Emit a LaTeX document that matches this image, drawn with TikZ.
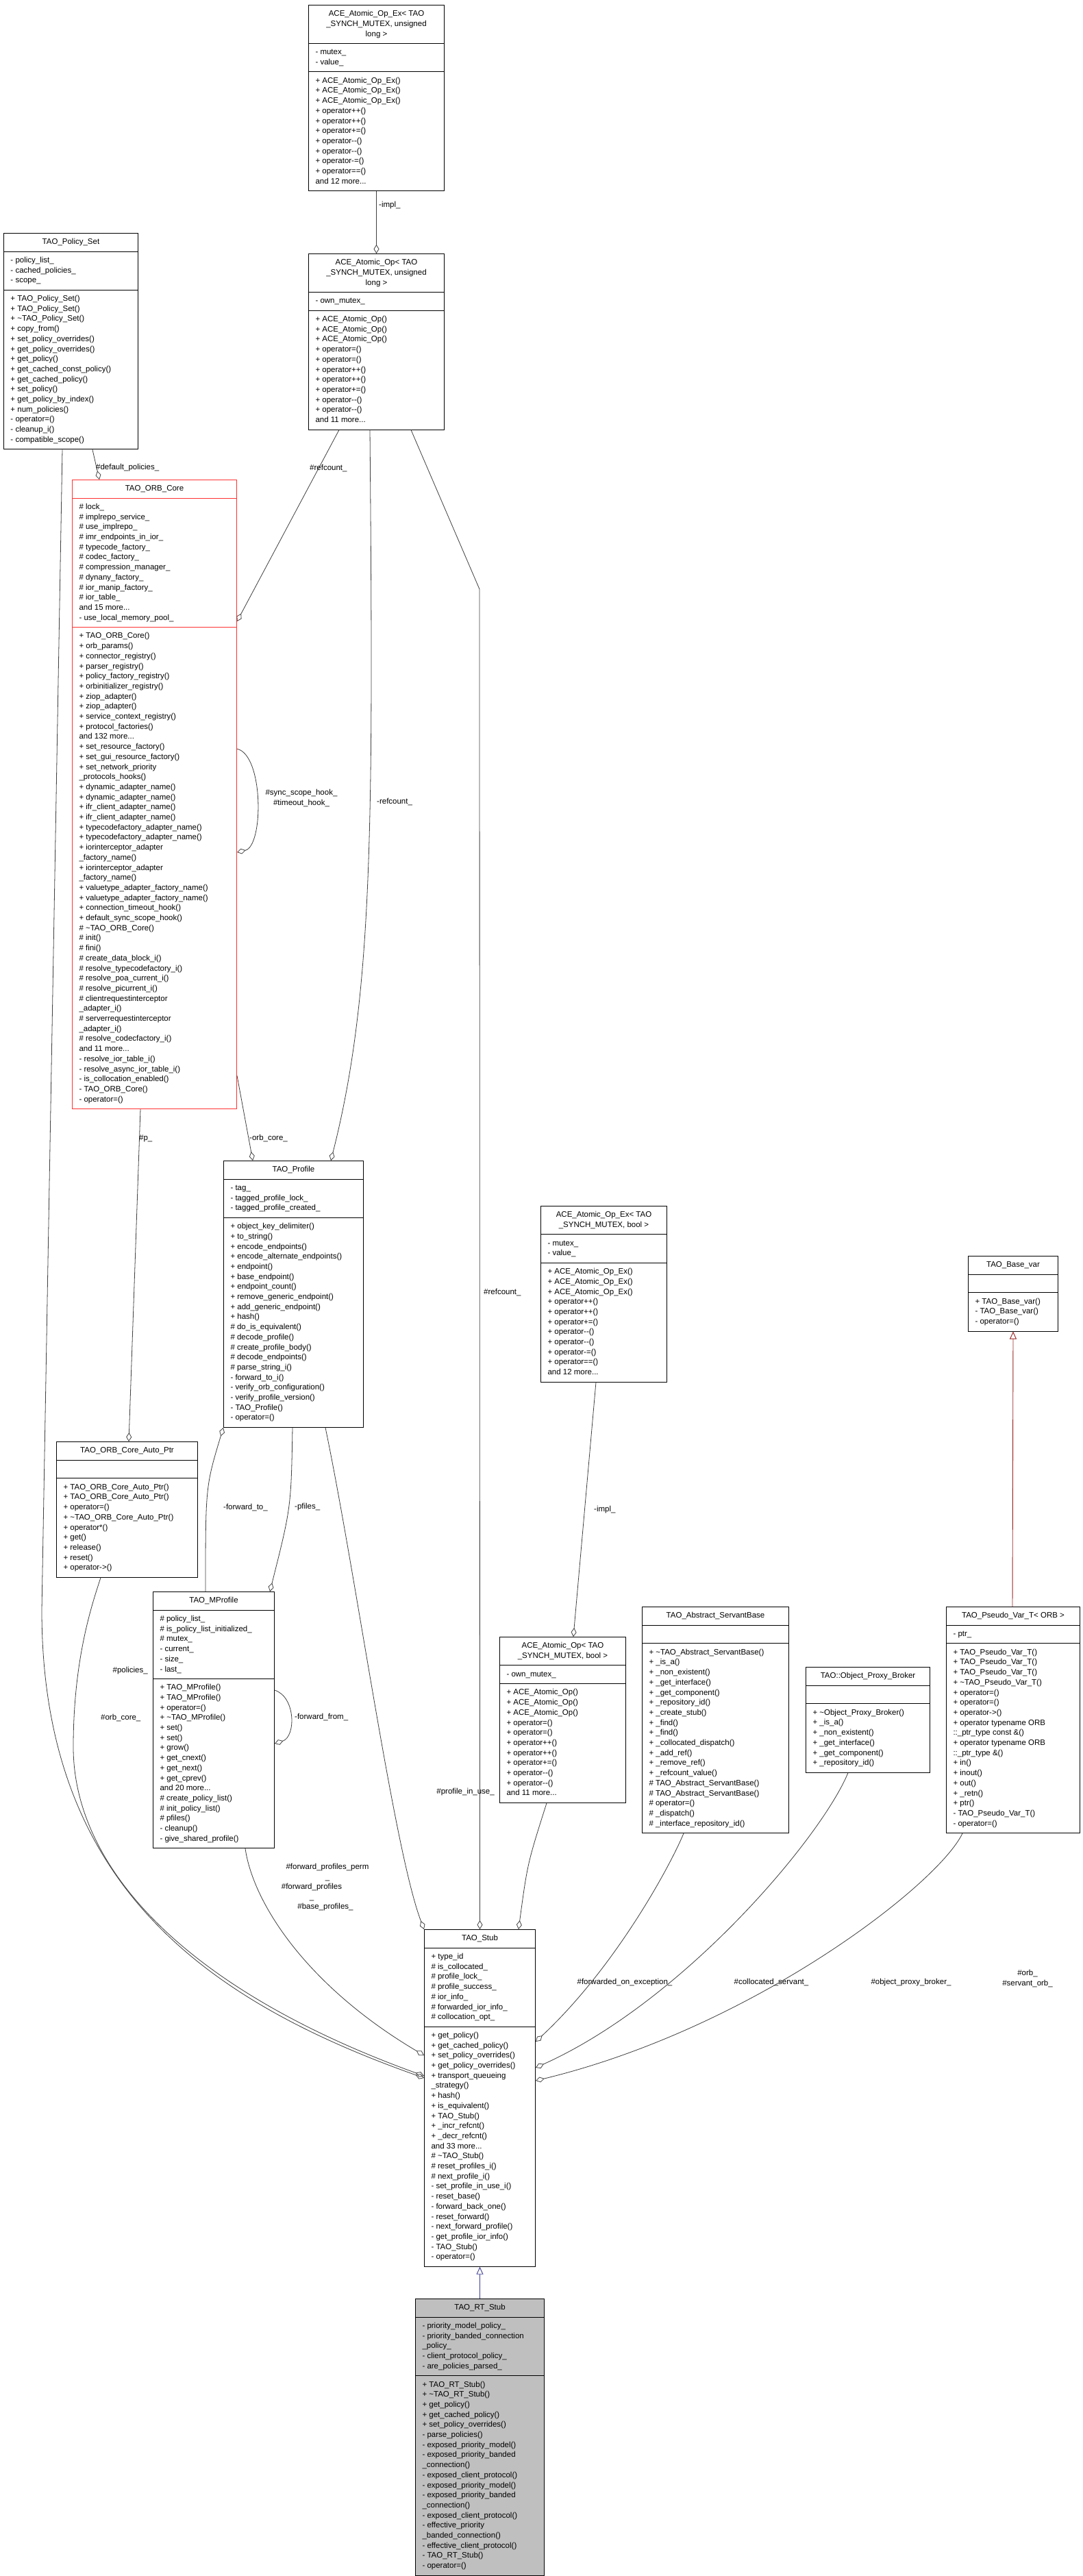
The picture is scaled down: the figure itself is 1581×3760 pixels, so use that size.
\documentclass[tikz,border=0pt]{standalone}
\usepackage{fontspec}
\setmainfont{Liberation Sans}
\usepackage{tikz}
\usetikzlibrary{arrows.meta}
\usetikzlibrary{shapes.multipart}
\definecolor{edgegray}{HTML}{404040}
\definecolor{orbred}{HTML}{FF3333}
\definecolor{inhred}{HTML}{9A2222}
\definecolor{inhblue}{HTML}{3F3F96}
\definecolor{rtgray}{HTML}{BFBFBF}
\tikzset{
  umlbox/.style={rectangle split, rectangle split parts=3, draw=black, line width=1pt,
    rectangle split part align={center,left,left}, align=left,
    inner xsep=10pt, inner ysep=5.5pt, font=\fontsize{11.5}{14.7}\selectfont, fill=white},
  lbl/.style={font=\fontsize{11.5}{14.7}\selectfont, inner sep=0pt, align=center},
  aggr/.style={draw=edgegray, line width=0.8pt, {Diamond[open,length=13pt,width=8pt,line width=0.8pt]}-},
  inhr/.style={draw=inhred, line width=0.9pt, -{Triangle[open,length=11pt,width=10pt,line width=0.9pt]}},
  inhb/.style={draw=inhblue, line width=0.9pt, -{Triangle[open,length=11pt,width=10pt,line width=0.9pt]}}
}
\newcommand{\ttl}[1]{\begin{tabular}{@{}c@{}}#1\end{tabular}}
\newcommand{\tl}{\textasciitilde}
\newcommand{\umlclass}[8][]{%
  \node[umlbox,#1,minimum width=#5pt,anchor=north west] (#2) at (#3,#4)
    {\ttl{#6}\nodepart{two}\strut#7\strut\nodepart{three}\strut#8\strut};}

\begin{document}
\catcode`\_=12
\begin{tikzpicture}[x=1pt,y=-1pt]
  \fill[white] (0,0) rectangle (1581,3760);
  \useasboundingbox (0,0) rectangle (1581,3760);

  % classes
  \umlclass{atomexul}{450}{7}{198}{ACE_Atomic_Op_Ex< TAO\\_SYNCH_MUTEX, unsigned\\long >}
    {- mutex_\\- value_}
    {+ ACE_Atomic_Op_Ex()\\+ ACE_Atomic_Op_Ex()\\+ ACE_Atomic_Op_Ex()\\+ operator++()\\+ operator++()\\+ operator+=()\\+ operator-{}-()\\+ operator-{}-()\\+ operator-=()\\+ operator==()\\and 12 more...}
  \umlclass{atomul}{450}{370}{198}{ACE_Atomic_Op< TAO\\_SYNCH_MUTEX, unsigned\\long >}
    {- own_mutex_}
    {+ ACE_Atomic_Op()\\+ ACE_Atomic_Op()\\+ ACE_Atomic_Op()\\+ operator=()\\+ operator=()\\+ operator++()\\+ operator++()\\+ operator+=()\\+ operator-{}-()\\+ operator-{}-()\\and 11 more...}
  \umlclass{polset}{5}{340}{196}{TAO_Policy_Set}
    {- policy_list_\\- cached_policies_\\- scope_}
    {+ TAO_Policy_Set()\\+ TAO_Policy_Set()\\+ \tl TAO_Policy_Set()\\+ copy_from()\\+ set_policy_overrides()\\+ get_policy_overrides()\\+ get_policy()\\+ get_cached_const_policy()\\+ get_cached_policy()\\+ set_policy()\\+ get_policy_by_index()\\+ num_policies()\\- operator=()\\- cleanup_i()\\- compatible_scope()}
  \umlclass[draw=orbred]{orbcore}{105}{700}{240}{TAO_ORB_Core}
    {\# lock_\\\# implrepo_service_\\\# use_implrepo_\\\# imr_endpoints_in_ior_\\\# typecode_factory_\\\# codec_factory_\\\# compression_manager_\\\# dynany_factory_\\\# ior_manip_factory_\\\# ior_table_\\and 15 more...\\- use_local_memory_pool_}
    {+ TAO_ORB_Core()\\+ orb_params()\\+ connector_registry()\\+ parser_registry()\\+ policy_factory_registry()\\+ orbinitializer_registry()\\+ ziop_adapter()\\+ ziop_adapter()\\+ service_context_registry()\\+ protocol_factories()\\and 132 more...\\+ set_resource_factory()\\+ set_gui_resource_factory()\\+ set_network_priority\\_protocols_hooks()\\+ dynamic_adapter_name()\\+ dynamic_adapter_name()\\+ ifr_client_adapter_name()\\+ ifr_client_adapter_name()\\+ typecodefactory_adapter_name()\\+ typecodefactory_adapter_name()\\+ iorinterceptor_adapter\\_factory_name()\\+ iorinterceptor_adapter\\_factory_name()\\+ valuetype_adapter_factory_name()\\+ valuetype_adapter_factory_name()\\+ connection_timeout_hook()\\+ default_sync_scope_hook()\\\# \tl TAO_ORB_Core()\\\# init()\\\# fini()\\\# create_data_block_i()\\\# resolve_typecodefactory_i()\\\# resolve_poa_current_i()\\\# resolve_picurrent_i()\\\# clientrequestinterceptor\\_adapter_i()\\\# serverrequestinterceptor\\_adapter_i()\\\# resolve_codecfactory_i()\\and 11 more...\\- resolve_ior_table_i()\\- resolve_async_ior_table_i()\\- is_collocation_enabled()\\- TAO_ORB_Core()\\- operator=()}
  \umlclass{profile}{326}{1694}{204}{TAO_Profile}
    {- tag_\\- tagged_profile_lock_\\- tagged_profile_created_}
    {+ object_key_delimiter()\\+ to_string()\\+ encode_endpoints()\\+ encode_alternate_endpoints()\\+ endpoint()\\+ base_endpoint()\\+ endpoint_count()\\+ remove_generic_endpoint()\\+ add_generic_endpoint()\\+ hash()\\\# do_is_equivalent()\\\# decode_profile()\\\# create_profile_body()\\\# decode_endpoints()\\\# parse_string_i()\\- forward_to_i()\\- verify_orb_configuration()\\- verify_profile_version()\\- TAO_Profile()\\- operator=()}
  \umlclass{orbptr}{82}{2104}{206}{TAO_ORB_Core_Auto_Ptr}
    {}
    {+ TAO_ORB_Core_Auto_Ptr()\\+ TAO_ORB_Core_Auto_Ptr()\\+ operator=()\\+ \tl TAO_ORB_Core_Auto_Ptr()\\+ operator*()\\+ get()\\+ release()\\+ reset()\\+ operator->()}
  \umlclass{mprofile}{223}{2323}{177}{TAO_MProfile}
    {\# policy_list_\\\# is_policy_list_initialized_\\\# mutex_\\- current_\\- size_\\- last_}
    {+ TAO_MProfile()\\+ TAO_MProfile()\\+ operator=()\\+ \tl TAO_MProfile()\\+ set()\\+ set()\\+ grow()\\+ get_cnext()\\+ get_next()\\+ get_cprev()\\and 20 more...\\\# create_policy_list()\\\# init_policy_list()\\\# pfiles()\\- cleanup()\\- give_shared_profile()}
  \umlclass{atomexb}{789}{1760}{184}{ACE_Atomic_Op_Ex< TAO\\_SYNCH_MUTEX, bool >}
    {- mutex_\\- value_}
    {+ ACE_Atomic_Op_Ex()\\+ ACE_Atomic_Op_Ex()\\+ ACE_Atomic_Op_Ex()\\+ operator++()\\+ operator++()\\+ operator+=()\\+ operator-{}-()\\+ operator-{}-()\\+ operator-=()\\+ operator==()\\and 12 more...}
  \umlclass{atomb}{729}{2389}{184}{ACE_Atomic_Op< TAO\\_SYNCH_MUTEX, bool >}
    {- own_mutex_}
    {+ ACE_Atomic_Op()\\+ ACE_Atomic_Op()\\+ ACE_Atomic_Op()\\+ operator=()\\+ operator=()\\+ operator++()\\+ operator++()\\+ operator+=()\\+ operator-{}-()\\+ operator-{}-()\\and 11 more...}
  \umlclass{servant}{937}{2345}{214}{TAO_Abstract_ServantBase}
    {}
    {+ \tl TAO_Abstract_ServantBase()\\+ _is_a()\\+ _non_existent()\\+ _get_interface()\\+ _get_component()\\+ _repository_id()\\+ _create_stub()\\+ _find()\\+ _find()\\+ _collocated_dispatch()\\+ _add_ref()\\+ _remove_ref()\\+ _refcount_value()\\\# TAO_Abstract_ServantBase()\\\# TAO_Abstract_ServantBase()\\\# operator=()\\\# _dispatch()\\\# _interface_repository_id()}
  \umlclass{broker}{1176}{2433}{181}{TAO::Object_Proxy_Broker}
    {}
    {+ \tl Object_Proxy_Broker()\\+ _is_a()\\+ _non_existent()\\+ _get_interface()\\+ _get_component()\\+ _repository_id()}
  \umlclass{basevar}{1413}{1833}{131}{TAO_Base_var}
    {}
    {+ TAO_Base_var()\\- TAO_Base_var()\\- operator=()}
  \umlclass{pvar}{1381}{2345}{195}{TAO_Pseudo_Var_T< ORB >}
    {- ptr_}
    {+ TAO_Pseudo_Var_T()\\+ TAO_Pseudo_Var_T()\\+ TAO_Pseudo_Var_T()\\+ \tl TAO_Pseudo_Var_T()\\+ operator=()\\+ operator=()\\+ operator->()\\+ operator typename ORB\\::_ptr_type const \&()\\+ operator typename ORB\\::_ptr_type \&()\\+ in()\\+ inout()\\+ out()\\+ _retn()\\+ ptr()\\- TAO_Pseudo_Var_T()\\- operator=()}
  \umlclass{stub}{619}{2816}{162}{TAO_Stub}
    {+ type_id\\\# is_collocated_\\\# profile_lock_\\\# profile_success_\\\# ior_info_\\\# forwarded_ior_info_\\\# collocation_opt_}
    {+ get_policy()\\+ get_cached_policy()\\+ set_policy_overrides()\\+ get_policy_overrides()\\+ transport_queueing\\_strategy()\\+ hash()\\+ is_equivalent()\\+ TAO_Stub()\\+ _incr_refcnt()\\+ _decr_refcnt()\\and 33 more...\\\# \tl TAO_Stub()\\\# reset_profiles_i()\\\# next_profile_i()\\- set_profile_in_use_i()\\- reset_base()\\- forward_back_one()\\- reset_forward()\\- next_forward_profile()\\- get_profile_ior_info()\\- TAO_Stub()\\- operator=()}
  \umlclass[fill=rtgray]{rtstub}{606}{3355}{188}{TAO_RT_Stub}
    {- priority_model_policy_\\- priority_banded_connection\\_policy_\\- client_protocol_policy_\\- are_policies_parsed_}
    {+ TAO_RT_Stub()\\+ \tl TAO_RT_Stub()\\+ get_policy()\\+ get_cached_policy()\\+ set_policy_overrides()\\- parse_policies()\\- exposed_priority_model()\\- exposed_priority_banded\\_connection()\\- exposed_client_protocol()\\- exposed_priority_model()\\- exposed_priority_banded\\_connection()\\- exposed_client_protocol()\\- effective_priority\\_banded_connection()\\- effective_client_protocol()\\- TAO_RT_Stub()\\- operator=()}

  % connectors
  \draw[aggr] (atomul.north) -- (atomexul.south);
  \node[lbl,anchor=west] (implul) at (553,300) {-impl_};
  \draw[aggr] ([xshift=40pt]orbcore.north west) -- ([xshift=130pt]polset.south west);
  \node[lbl,anchor=west] (defpol) at (140,683) {\#default_policies_};
  \draw[aggr] ([yshift=-207pt]orbcore.north east) -- ([xshift=45pt]atomul.south west);
  \node[lbl,anchor=west] (refcorb) at (452,683) {\#refcount_};
  \draw[aggr] ([yshift=-544pt]orbcore.north east) .. controls (385,1235) and (385,1102) .. ([yshift=-393pt]orbcore.north east);
  \node[lbl] (hooks) at (440,1165) {\#sync_scope_hook_\\\#timeout_hook_};
  \draw[aggr] ([xshift=157pt]profile.north west) .. controls (545,1450) and (545,1200) .. ([xshift=90pt]atomul.south west);
  \node[lbl,anchor=west] (refcprof) at (550,1170) {-refcount_};
  \draw[aggr] (stub.north) -- (700,860) -- ([xshift=150pt]atomul.south west);
  \node[lbl,anchor=west] (refcstub) at (706,1886) {\#refcount_};
  \draw[aggr] ([xshift=43pt]profile.north west) -- ([yshift=-870pt]orbcore.north east);
  \node[lbl,anchor=west] (orbcorelbl) at (364,1661) {-orb_core_};
  \draw[aggr] ([xshift=106pt]orbptr.north west) -- ([xshift=100pt]orbcore.south west);
  \node[lbl,anchor=west] (plbl) at (203,1662) {\#p_};
  \draw[aggr] ([yshift=-217pt]stub.north west) .. controls (300,2920) and (61,2750) .. (61,2350) -- ([xshift=86pt]polset.south west);
  \node[lbl,anchor=east] (pollbl) at (216,2438) {\#policies_};
  \draw[aggr] ([yshift=-214pt]stub.north west) .. controls (260,2900) and (107,2720) .. (107,2550) .. controls (107,2420) and (135,2340) .. ([xshift=65pt]orbptr.south west);
  \node[lbl,anchor=west] (orbptrlbl) at (147,2507) {\#orb_core_};
  \draw[aggr] (profile.south west) .. controls (300,2170) .. ([xshift=77pt]mprofile.north west);
  \node[lbl,anchor=west] (fwdto) at (326,2200) {-forward_to_};
  \draw[aggr] ([xshift=171pt]mprofile.north west) .. controls (425,2200) .. ([xshift=101pt]profile.south west);
  \node[lbl,anchor=west] (pfiles) at (430,2200) {-pfiles_};
  \draw[aggr] ([yshift=-222pt]mprofile.north east) .. controls (432,2535) and (432,2477) .. ([yshift=-144pt]mprofile.north east);
  \node[lbl,anchor=west] (fwdfrom) at (430,2506) {-forward_from_};
  \draw[aggr] ([yshift=-184pt]stub.north west) .. controls (450,2900) and (370,2780) .. ([xshift=135pt]mprofile.south west);
  \node[lbl] (fpperm) at (478,2733) {\#forward_profiles_perm\\_};
  \node[lbl] (fprof) at (455,2762) {\#forward_profiles\\_};
  \node[lbl] (bprof) at (475,2783) {\#base_profiles_};
  \draw[aggr] (stub.north west) .. controls (575,2700) and (520,2300) .. ([xshift=149pt]profile.south west);
  \node[lbl,anchor=east] (inuse) at (722,2615) {\#profile_in_use_};
  \draw[aggr] ([xshift=108pt]atomb.north west) -- ([xshift=81pt]atomexb.south west);
  \node[lbl,anchor=west] (implb) at (867,2203) {-impl_};
  \draw[aggr] ([xshift=138pt]stub.north west) .. controls (770,2720) .. ([xshift=69pt]atomb.south west);
  \node[lbl] (fwdexc) at (912,2893) {\#forwarded_on_exception_};
  \draw[aggr] ([yshift=-164pt]stub.north east) .. controls (900,2870) and (980,2720) .. ([xshift=61pt]servant.south west);
  \node[lbl] (colloc) at (1126,2893) {\#collocated_servant_};
  \draw[aggr] ([yshift=-202pt]stub.north east) .. controls (1000,2920) and (1200,2680) .. ([xshift=62pt]broker.south west);
  \node[lbl] (brokerlbl) at (1330,2893) {\#object_proxy_broker_};
  \draw[aggr] ([yshift=-221pt]stub.north east) .. controls (1100,2960) and (1370,2750) .. ([xshift=24pt]pvar.south west);
  \node[lbl] (orblbl) at (1500,2888) {\#orb_\\\#servant_orb_};
  \draw[inhr] ([xshift=97pt]pvar.north west) -- (basevar.south);
  \draw[inhb] (rtstub.north) -- (stub.south);
\end{tikzpicture}
\end{document}
